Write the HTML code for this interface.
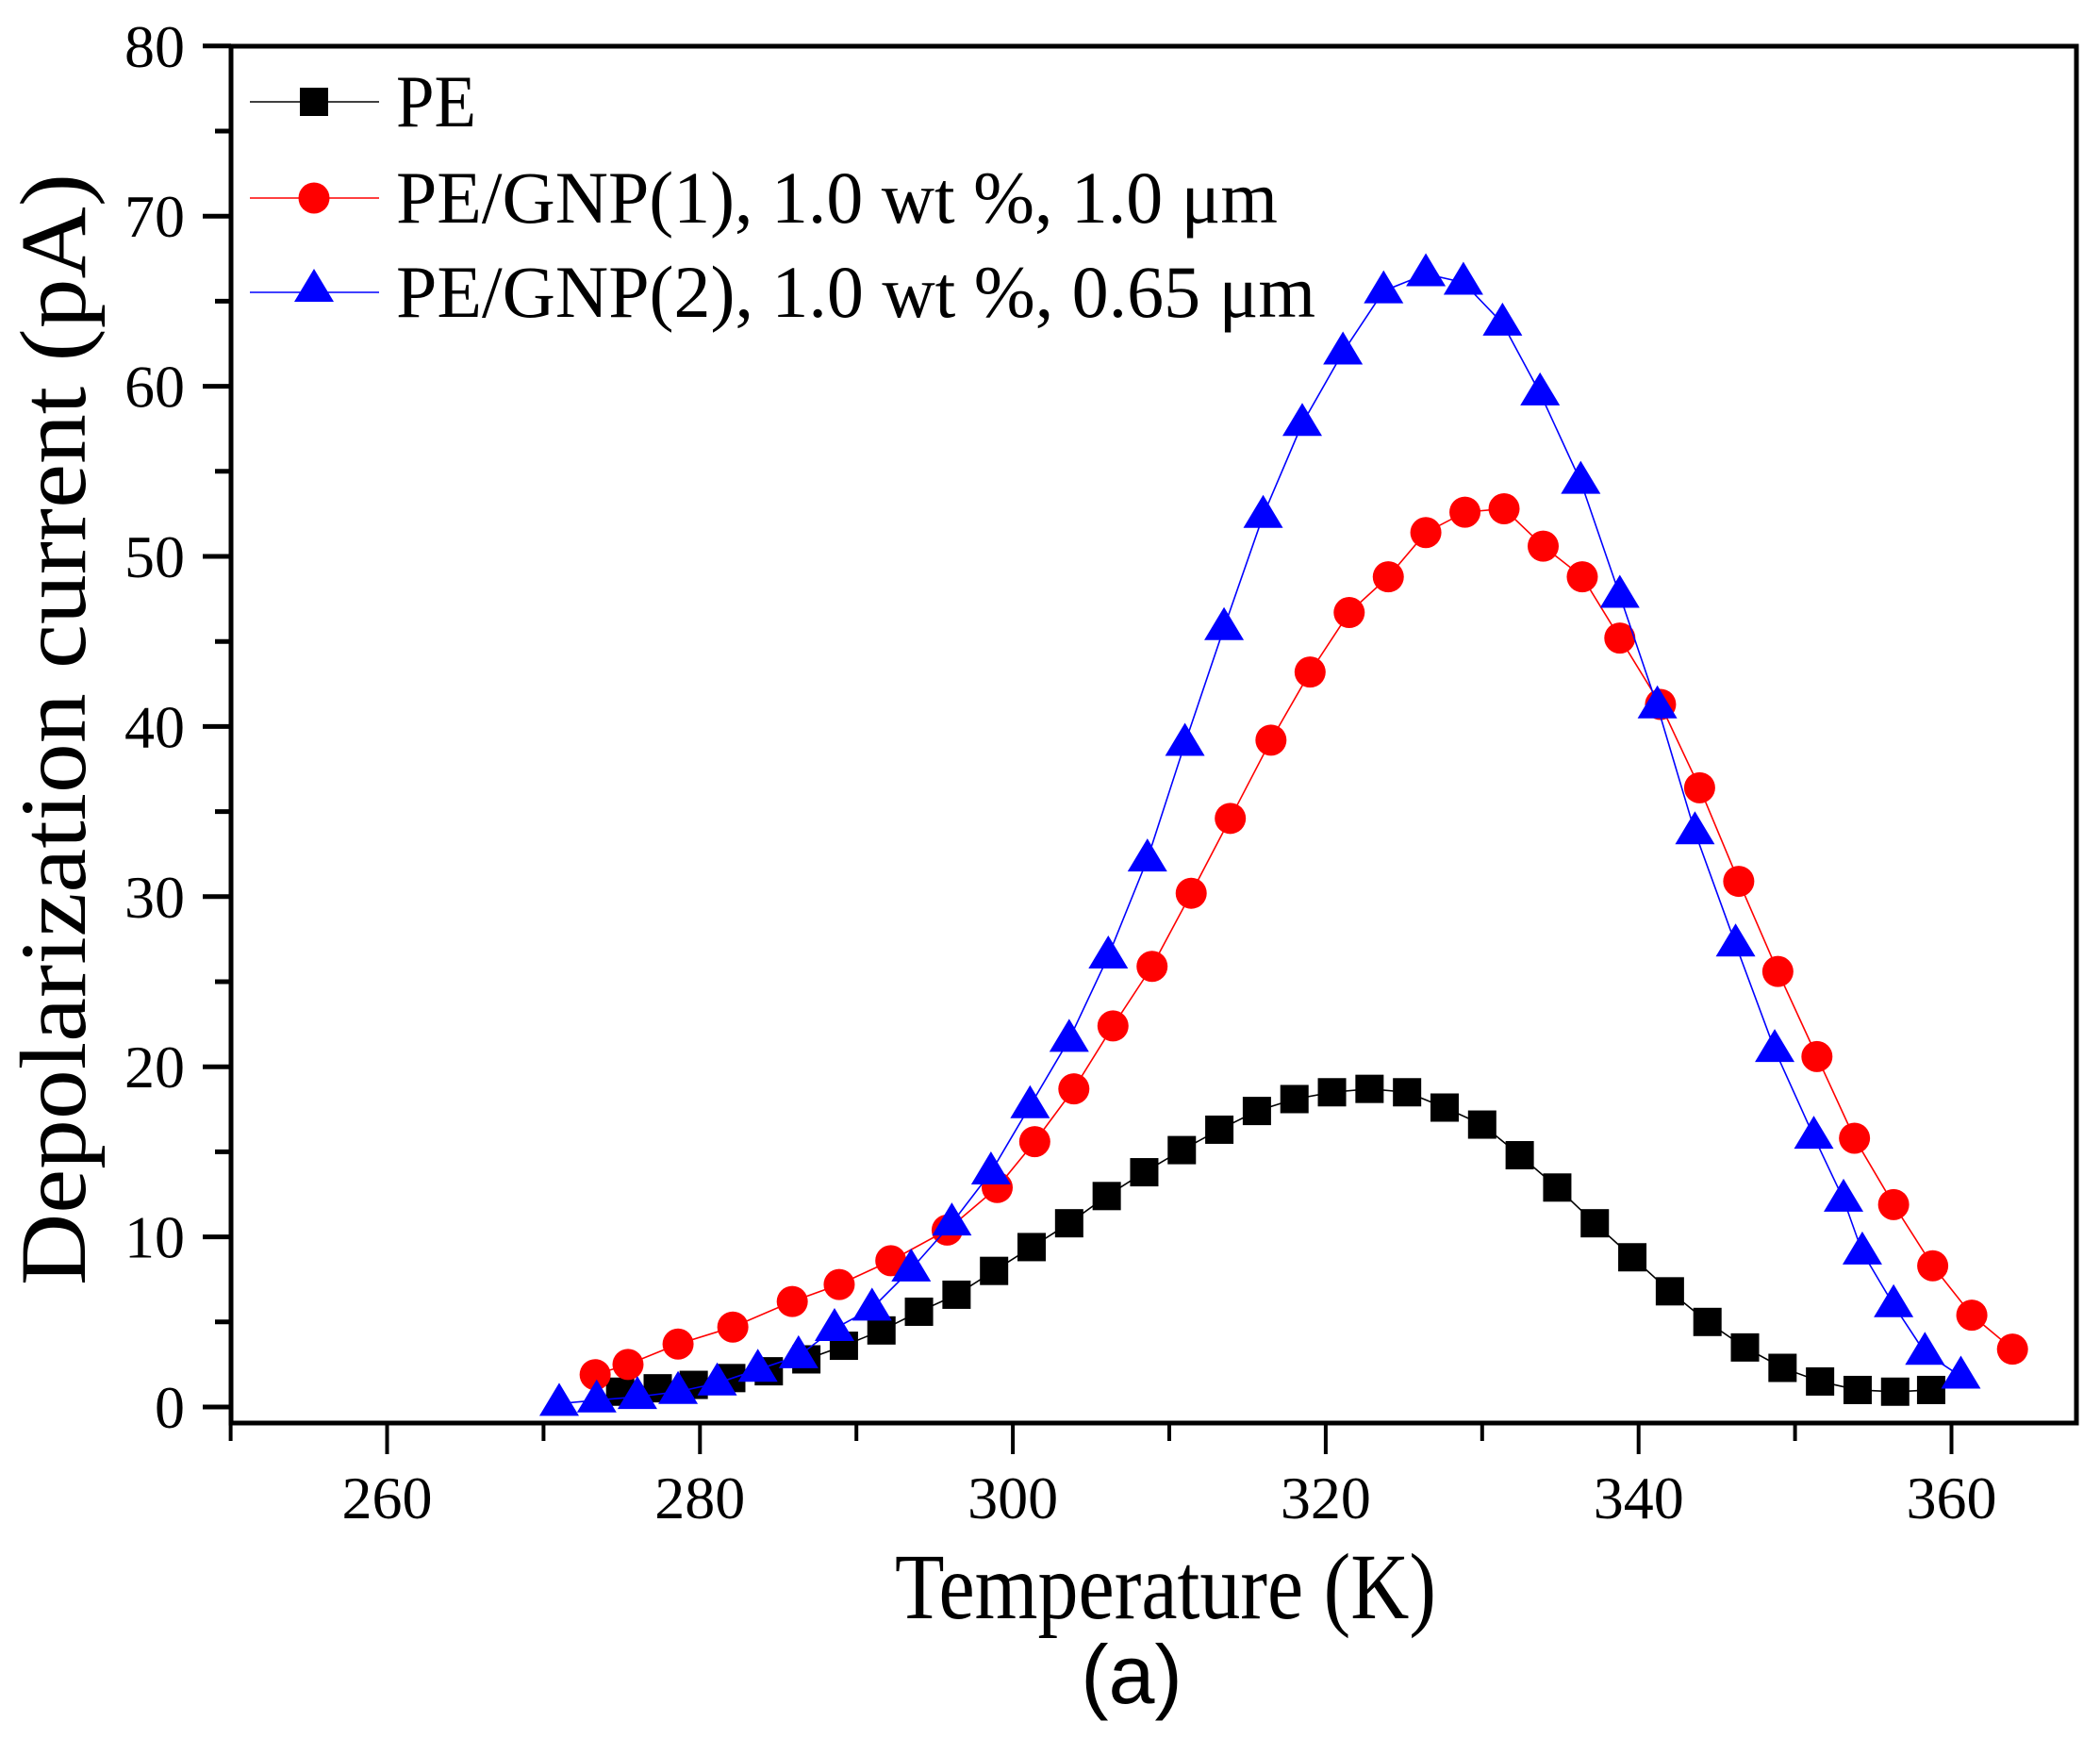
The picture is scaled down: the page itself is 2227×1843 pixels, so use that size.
<!DOCTYPE html>
<html><head><meta charset="utf-8"><style>
html,body{margin:0;padding:0;background:#fff}
svg{display:block}
text{font-family:"Liberation Serif",serif;fill:#000}
</style></head><body>
<svg id="chart" width="2227" height="1843" viewBox="0 0 2227 1843" xmlns="http://www.w3.org/2000/svg">
<g id="axes"></g>
<g id="series"></g>
<g id="legend"></g>
<text x="949" y="1716" font-size="100" textLength="574" lengthAdjust="spacingAndGlyphs">Temperature (K)</text>
<text x="1200" y="1806" font-size="88" text-anchor="middle" style="font-family:'Liberation Sans',sans-serif">(a)</text>
<text transform="translate(90,1363) rotate(-90)" font-size="100" textLength="1179" lengthAdjust="spacingAndGlyphs">Depolarization current (pA)</text>
</svg>
<script>
const peT=[274.9,277.3,279.6,282.0,284.4,286.8,289.2,291.6,294.0,296.4,298.8,301.2,303.6,306.0,308.4,310.8,313.2,315.6,318.0,320.4,322.8,325.2,327.6,330.0,332.4,334.8,337.2,339.6,342.0,344.4,346.8,349.2,351.6,354.0,356.4,358.7];
const peI=[0.9,1.1,1.3,1.7,2.1,2.8,3.6,4.5,5.6,6.6,8.0,9.4,10.8,12.4,13.8,15.1,16.3,17.4,18.1,18.5,18.7,18.5,17.6,16.6,14.8,12.9,10.8,8.8,6.8,5.0,3.5,2.3,1.5,1.0,0.9,1.0];
const g1T=[273.3,275.4,278.6,282.1,285.9,288.9,292.2,295.8,299.0,301.4,303.9,306.4,308.9,311.4,313.9,316.5,319.0,321.5,324.0,326.4,328.9,331.4,333.9,336.4,338.8,341.4,343.9,346.4,348.9,351.4,353.8,356.3,358.8,361.3,363.9];
const g1I=[1.9,2.5,3.7,4.7,6.2,7.2,8.6,10.4,12.9,15.6,18.7,22.4,25.9,30.2,34.6,39.2,43.2,46.7,48.8,51.4,52.6,52.8,50.6,48.8,45.2,41.3,36.4,30.9,25.6,20.6,15.8,11.9,8.3,5.4,3.4];
const g2T=[271.0,273.4,276.0,278.6,281.1,283.7,286.3,288.6,291.0,293.5,296.1,298.6,301.1,303.6,306.1,308.6,311.0,313.5,316.0,318.5,321.1,323.7,326.4,328.8,331.3,333.7,336.3,338.8,341.2,343.6,346.2,348.7,351.2,353.1,354.3,356.3,358.3,360.6];
const g2I=[0.2,0.4,0.6,0.9,1.4,2.2,3.0,4.6,5.8,8.1,10.8,13.8,17.7,21.6,26.5,32.2,39.0,45.8,52.4,57.8,62.0,65.6,66.6,66.1,63.7,59.6,54.4,47.7,41.2,33.8,27.2,21.0,15.9,12.2,9.1,6.0,3.2,1.8];
const xTicks=[260,280,300,320,340,360];
const xMinor=[250,270,290,310,330,350];
const yTicks=[0,10,20,30,40,50,60,70,80];
const yMinor=[5,15,25,35,45,55,65,75];
const legendLabels=["PE","PE/GNP(1), 1.0 wt %, 1.0 \u03bcm","PE/GNP(2), 1.0 wt %, 0.65 \u03bcm"];
const legendLens=[85,935,975];

const NS="http://www.w3.org/2000/svg";
const L=245,R=2202,T=49,B=1509;
const xMin=250,xMax=368,yMin=0,yMax=80;
function X(t){return 244.6+(t-xMin)*16.59;}
function Y(v){return 1492-v*18.04;}
function mk(tag,attrs,parent){const e=document.createElementNS(NS,tag);for(const k in attrs)e.setAttribute(k,attrs[k]);parent.appendChild(e);return e;}
const axes=document.getElementById('axes');
let fr=mk('rect',{x:L,y:T,width:R-L,height:B-T,fill:'none',stroke:'#000','stroke-width':5},axes);


xTicks.forEach(t=>{
  let l=mk('line',{x1:X(t),x2:X(t),y1:B,y2:B+33,stroke:'#000','stroke-width':4},axes);
  
  
  let tx=mk('text',{x:X(t),y:1610,'font-size':64,'text-anchor':'middle'},axes);tx.textContent=t;
  
  
});
xMinor.forEach(t=>{
  let l=mk('line',{x1:X(t),x2:X(t),y1:B,y2:B+19,stroke:'#000','stroke-width':4},axes);
  
  
});
yTicks.forEach(v=>{
  let l=mk('line',{x1:L-30,x2:L,y1:Y(v),y2:Y(v),stroke:'#000','stroke-width':5},axes);
  
  
  let tx=mk('text',{x:196,y:Y(v)+22,'font-size':64,'text-anchor':'end'},axes);tx.textContent=v;
  
  
});
yMinor.forEach(v=>{
  let l=mk('line',{x1:L-17,x2:L,y1:Y(v),y2:Y(v),stroke:'#000','stroke-width':5},axes);
  
  
});
function marker(kind,cx,cy,col,parent){
  let e;
  if(kind==='sq') e=mk('rect',{x:cx-15,y:cy-15,width:30,height:30,fill:col},parent);
  else if(kind==='ci') e=mk('circle',{cx:cx,cy:cy,r:16.5,fill:col},parent);
  else e=mk('polygon',{points:`${cx},${cy-22} ${cx-21},${cy+13} ${cx+21},${cy+13}`,fill:col},parent);
  return e;
}
const ser=document.getElementById('series');
const defs=[[peT,peI,'#000','sq','pe'],[g1T,g1I,'#ff0000','ci','pe-gnp1'],[g2T,g2I,'#0000ff','tr','pe-gnp2']];
defs.forEach(([ts,vs,col,kind,name])=>{
  const g=mk('g',{},ser);
  
  
  let pl=mk('polyline',{points:ts.map((t,i)=>X(t)+','+Y(vs[i])).join(' '),fill:'none',stroke:col,'stroke-width':1.6},g);
  
  
  ts.forEach((t,i)=>{
    const m=marker(kind,X(t),Y(vs[i]),col,g);
    
    
  });
});
const leg=document.getElementById('legend');
const rows=[108,210,310];
defs.forEach((d,i)=>{
  const g=mk('g',{},leg);
  
  
  mk('line',{x1:265,x2:402,y1:rows[i],y2:rows[i],stroke:d[2],'stroke-width':1.6},g);
  marker(d[3],333,rows[i]+(d[3]==='tr'?-3:0),d[2],g);
  const tx=mk('text',{x:420,y:rows[i]+26,'font-size':78,textLength:legendLens[i],lengthAdjust:'spacingAndGlyphs'},g);tx.textContent=legendLabels[i];
});
</script>
</body></html>
